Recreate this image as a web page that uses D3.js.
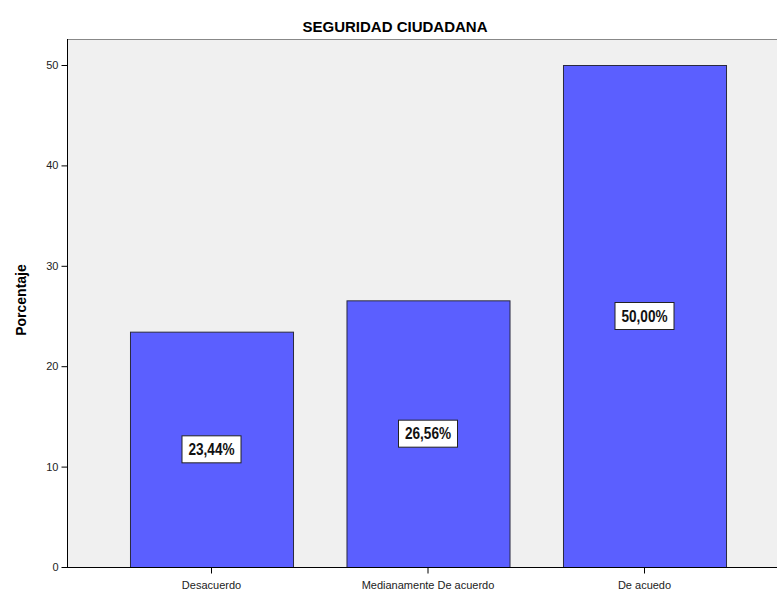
<!DOCTYPE html>
<html>
<head>
<meta charset="utf-8">
<script src="https://cdn.jsdelivr.net/npm/d3@7"></script>
<style>
  body { margin: 0; background: #fff; }
  svg { display: block; font-family: Arial, "Liberation Sans", sans-serif; }
</style>
</head>
<body>
<div class="outer-container"></div>
<script>
const categories = ['Desacuerdo', 'Medianamente De acuerdo', 'De acuedo']
const values = [23.44, 26.56, 50.00]
const labels = ['23,44%', '26,56%', '50,00%']
const yTicks = [0, 10, 20, 30, 40, 50]

const w = 777
const h = 591
const plotLeft = 67
const plotTop = 39
const plotBottom = 567

const xScale = d3.scaleBand()
                 .domain(categories)
                 .range([103.25, 752.75])
                 .paddingInner(0.247)
                 .paddingOuter(0.1235)

const yScale = d3.scaleLinear()
                 .domain([0, 50])
                 .range([plotBottom, 65])

const svg = d3.select('.outer-container')
              .append('svg')
              .attr('width', w)
              .attr('height', h)

// plot background
svg.append('rect')
   .attr('x', plotLeft)
   .attr('y', plotTop)
   .attr('width', w - plotLeft + 5)
   .attr('height', plotBottom - plotTop)
   .attr('fill', '#f0f0f0')

svg.append('line')
   .attr('x1', plotLeft).attr('x2', w)
   .attr('y1', plotTop + 0.5).attr('y2', plotTop + 0.5)
   .attr('stroke', '#888')

svg.append('text')
   .attr('x', 395)
   .attr('y', 32)
   .attr('text-anchor', 'middle')
   .style('font-size', '15px')
   .style('font-weight', 'bold')
   .text('SEGURIDAD CIUDADANA')

svg.selectAll('rect.bar')
   .data(values)
   .enter()
   .append('rect')
   .attr('class', 'bar')
   .attr('x', (d, i) => xScale(categories[i]) + 0.5)
   .attr('y', d => yScale(d) + 0.5)
   .attr('width', xScale.bandwidth())
   .attr('height', d => plotBottom - yScale(d))
   .attr('fill', '#5b5fff')
   .attr('stroke', '#2a2a40')
   .attr('stroke-width', 1)

// value labels at half bar height
const lab = svg.selectAll('g.lab')
               .data(values)
               .enter()
               .append('g')
               .attr('class', 'lab')
               .attr('transform', (d, i) =>
                 'translate(' + (xScale(categories[i]) + xScale.bandwidth() / 2) + ',' + yScale(d / 2) + ')')

lab.append('rect')
   .attr('x', -29.5)
   .attr('y', -13.5)
   .attr('width', 59)
   .attr('height', 27)
   .attr('fill', '#fff')
   .attr('stroke', '#222')

// condensed look, like the narrow font of the original
lab.append('text')
   .attr('text-anchor', 'middle')
   .attr('dy', '0.36em')
   .attr('transform', 'scale(0.85, 1)')
   .style('font-size', '16px')
   .style('font-weight', 'bold')
   .style('fill', '#111')
   .text((d, i) => labels[i])

const yAxis = d3.axisLeft(yScale)
                .tickValues(yTicks)
                .tickSize(6)
                .tickSizeOuter(0)

const xAxis = d3.axisBottom(xScale)
                .tickSize(6)
                .tickSizeOuter(0)

const gy = svg.append('g')
   .attr('transform', 'translate(' + (plotLeft + 0.5) + ', 0)')
   .call(yAxis)
gy.select('.domain').attr('d', 'M0,' + plotTop + 'V' + plotBottom)

const gx = svg.append('g')
   .attr('transform', 'translate(0, ' + (plotBottom + 0.5) + ')')
   .call(xAxis)
gx.select('.domain').attr('d', 'M' + plotLeft + ',0H' + w)

svg.selectAll('.tick text')
   .style('font-size', '11px')
   .style('fill', '#222')
gx.selectAll('.tick text').attr('dy', '1.1em')

svg.append('text')
   .attr('transform', 'translate(26, 300) rotate(-90)')
   .attr('text-anchor', 'middle')
   .style('font-size', '14px')
   .style('font-weight', 'bold')
   .text('Porcentaje')
</script>
</body>
</html>
